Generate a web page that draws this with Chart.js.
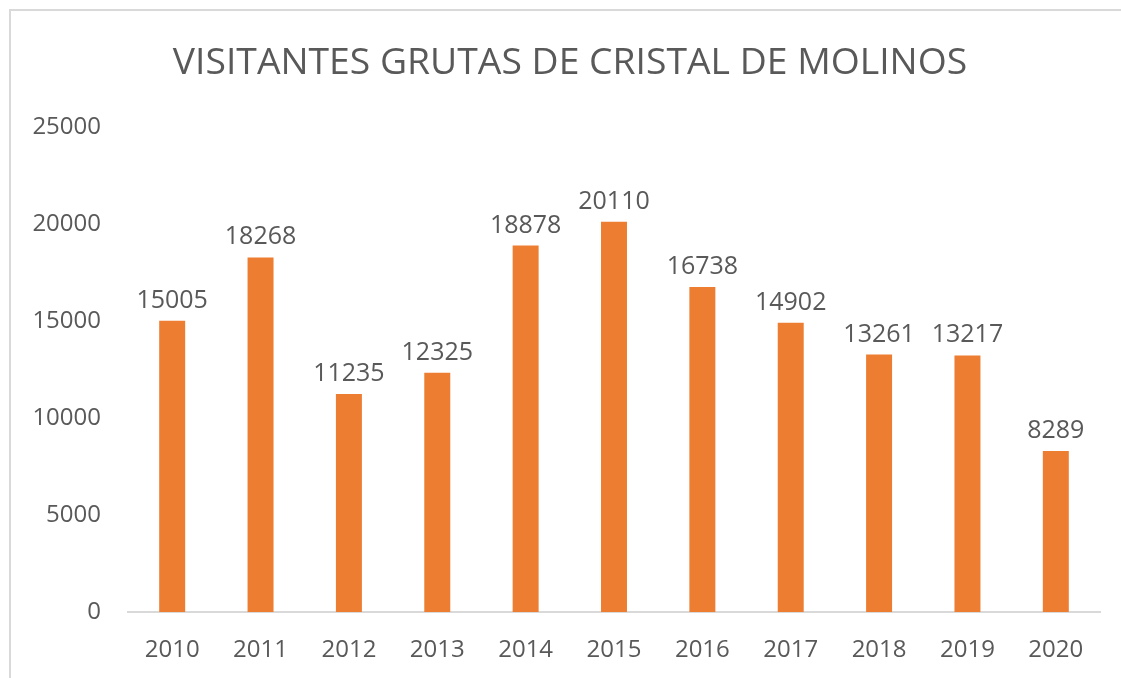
<!DOCTYPE html>
<html>
<head>
<meta charset="utf-8">
<script src="https://cdn.jsdelivr.net/npm/chart.js@4/dist/chart.umd.min.js"></script>
<style>
  html, body { margin: 0; padding: 0; background: #fff; }
  #wrap { position: relative; width: 1121px; height: 678px; overflow: hidden; }
  #frame { position: absolute; left: 9px; top: 9px; width: 1200px; height: 800px;
           border-left: 2px solid #d9d9d9; border-top: 2px solid #d9d9d9; }
  canvas { position: absolute; left: 0; top: 0; }
</style>
</head>
<body>
<div id="wrap">
  <div id="frame"></div>
  <canvas id="visitChart" width="1121" height="678"></canvas>
</div>
<script>
  // data
  const years = ['2010', '2011', '2012', '2013', '2014', '2015', '2016', '2017', '2018', '2019', '2020'];
  const visitors = [15005, 18268, 11235, 12325, 18878, 20110, 16738, 14902, 13261, 13217, 8289];
  const yTicks = [0, 5000, 10000, 15000, 20000, 25000];

  const textGray = '#595959';

  // numbers above each bar
  const valueLabels = {
    id: 'valueLabels',
    afterDatasetsDraw(chart) {
      const ctx = chart.ctx;
      const meta = chart.getDatasetMeta(0);
      ctx.save();
      ctx.font = '25px "Open Sans"';
      ctx.fillStyle = textGray;
      ctx.textAlign = 'center';
      ctx.textBaseline = 'alphabetic';
      meta.data.forEach((bar, i) => {
        ctx.fillText(String(visitors[i]), bar.x, bar.y - 13);
      });
      ctx.restore();
    }
  };

  const ctxVisit = document.getElementById('visitChart').getContext('2d');
  const visitChart = new Chart(ctxVisit, {
    type: 'bar',
    data: {
      labels: years,
      datasets: [{
        label: 'Visitantes',
        data: visitors,
        backgroundColor: '#ED7D31',
        borderWidth: 0,
        barPercentage: 0.294,
        categoryPercentage: 1
      }]
    },
    options: {
      responsive: false,
      animation: false,
      devicePixelRatio: 1,
      layout: {
        padding: { left: 24, right: 5, top: 0, bottom: 0 }
      },
      scales: {
        y: {
          min: 0,
          max: 25000,
          afterBuildTicks: (scale) => { scale.ticks = yTicks.map(v => ({ value: v })); },
          afterFit: (scale) => { scale.width = 104; },
          grid: { display: false, drawTicks: false },
          border: { display: false },
          ticks: {
            padding: 27,
            color: textGray,
            font: { family: 'Open Sans', size: 24 },
            callback: (v) => String(v)
          }
        },
        // empty right-hand strip so the plot ends where the original does
        y2: {
          type: 'linear',
          position: 'right',
          afterFit: (scale) => { scale.width = 16; },
          grid: { display: false },
          border: { display: false },
          ticks: { display: false }
        },
        x: {
          afterFit: (scale) => { scale.height = 66; },
          grid: { display: false },
          border: { display: true, color: '#d9d9d9', width: 2 },
          ticks: {
            padding: 16,
            color: textGray,
            maxRotation: 0,
            font: { family: 'Open Sans', size: 24 }
          }
        }
      },
      plugins: {
        legend: { display: false },
        tooltip: { enabled: false },
        title: {
          display: true,
          text: 'VISITANTES GRUTAS DE CRISTAL DE MOLINOS',
          color: textGray,
          font: { family: 'Open Sans', size: 37.3, weight: 'normal' },
          padding: { top: 41, bottom: 41 }
        }
      }
    },
    plugins: [valueLabels]
  });
</script>
</body>
</html>
